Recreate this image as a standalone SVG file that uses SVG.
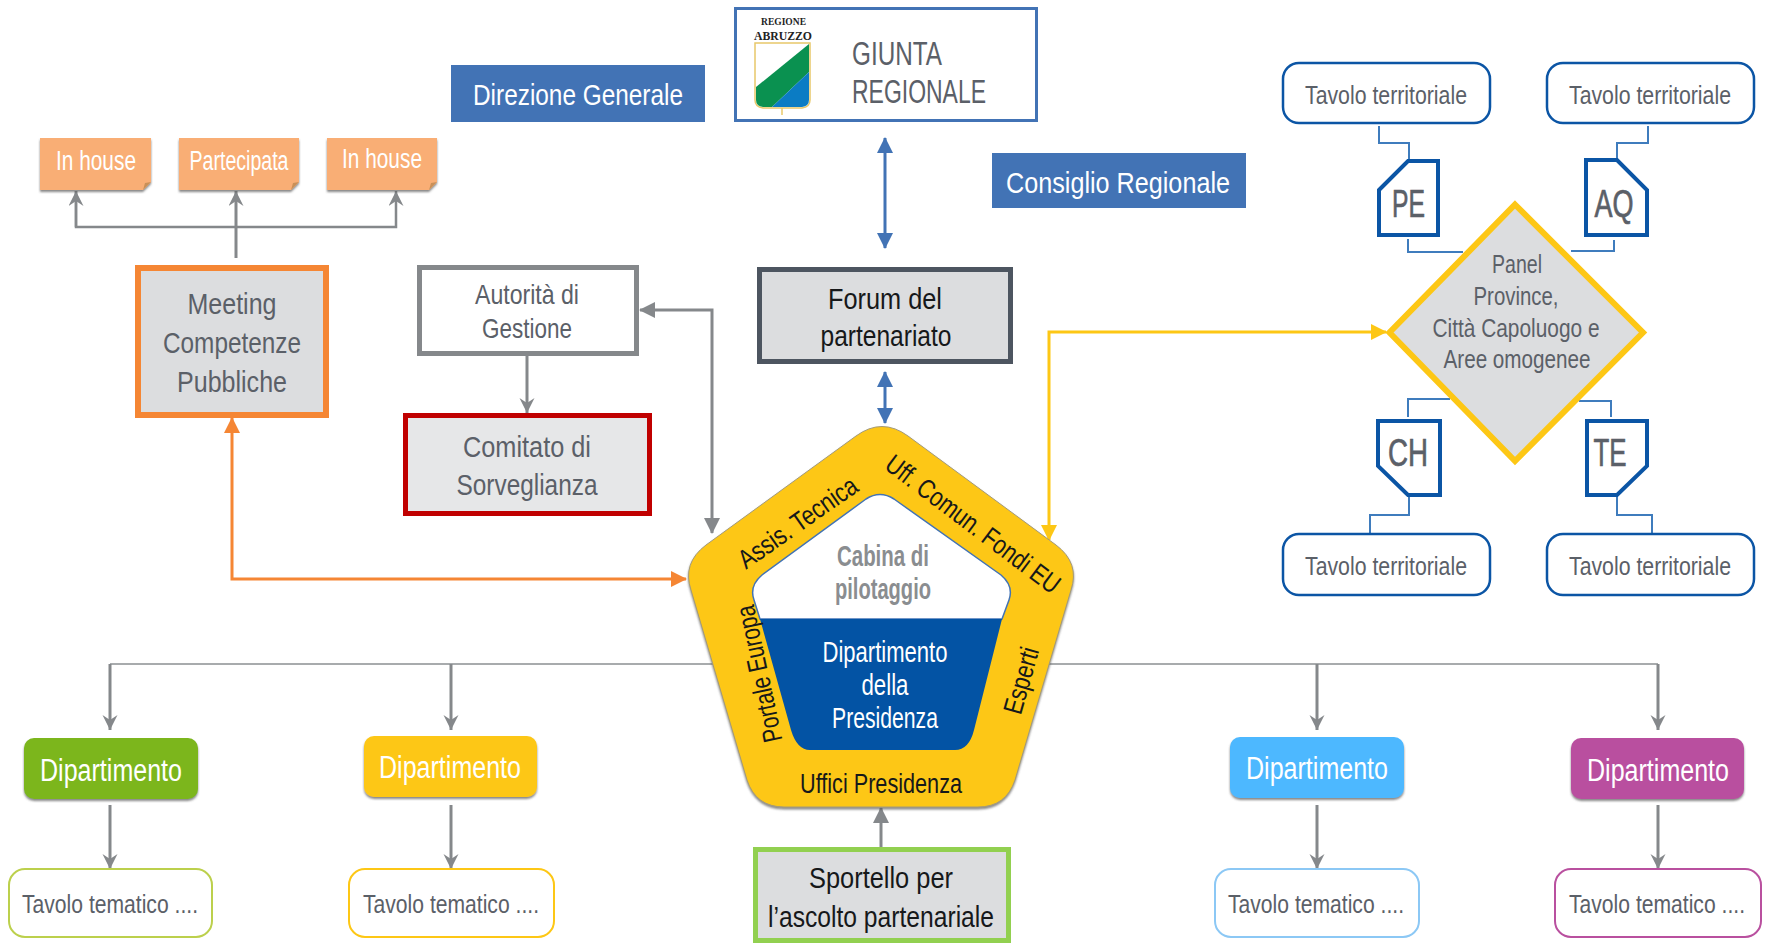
<svg xmlns="http://www.w3.org/2000/svg" width="1765" height="943" viewBox="0 0 1765 943">
<style>
text{font-family:"Liberation Sans",Arial,sans-serif;text-anchor:middle}
.g{fill:#5b6068}.w{fill:#fff}.k{fill:#16181a}
.h{stroke:#5b6068;stroke-width:.7}
.c{fill:none}
.gr{stroke:#85888b;stroke-width:3}
.bl{stroke:#4273b5;stroke-width:3}
.th{stroke:#3f7cbd;stroke-width:2;fill:none}
.doc{fill:#fff;stroke:#0b55a5;stroke-width:4}
.tt{fill:#fff;stroke:#0b55a5;stroke-width:2.5}
</style>
<defs>
<marker id="hg" markerUnits="userSpaceOnUse" markerWidth="16" markerHeight="18" refX="15" refY="8" orient="auto-start-reverse"><path d="M0 0L16 8L0 16z" fill="#85888b"/></marker>
<marker id="hs" markerUnits="userSpaceOnUse" markerWidth="16" markerHeight="16" refX="15" refY="7.5" orient="auto"><path d="M0 0L15 7.5L0 15L5 7.5z" fill="#85888b"/></marker>
<marker id="hb" markerUnits="userSpaceOnUse" markerWidth="16" markerHeight="16" refX="15" refY="8" orient="auto-start-reverse"><path d="M0 0L16 8L0 16z" fill="#4273b5"/></marker>
<marker id="ho" markerUnits="userSpaceOnUse" markerWidth="16" markerHeight="16" refX="15" refY="8" orient="auto-start-reverse"><path d="M0 0L16 8L0 16z" fill="#f58634"/></marker>
<marker id="hy" markerUnits="userSpaceOnUse" markerWidth="16" markerHeight="16" refX="15" refY="8" orient="auto-start-reverse"><path d="M0 0L16 8L0 16z" fill="#fdc715"/></marker>
<filter id="sh" x="-10%" y="-10%" width="120%" height="125%"><feDropShadow dx="0" dy="2" stdDeviation="1.2" flood-color="#555" flood-opacity=".7"/></filter>
</defs>

<g id="connectors">
<path class="c" d="M110 664H1658" stroke="#a8abad" stroke-width="2"/>
<g class="c gr">
<path d="M110 664V730" marker-end="url(#hs)"/><path d="M451 664V730" marker-end="url(#hs)"/><path d="M1317 664V730" marker-end="url(#hs)"/><path d="M1658 664V730" marker-end="url(#hs)"/>
<path d="M110 805V869" marker-end="url(#hs)"/><path d="M451 805V869" marker-end="url(#hs)"/><path d="M1317 805V869" marker-end="url(#hs)"/><path d="M1658 805V869" marker-end="url(#hs)"/>
<path d="M76 191V227H396V191" stroke-width="2.500" marker-end="url(#hs)"/><path d="M236 258V191" marker-end="url(#hs)"/>
<path d="M76 227V191" stroke-width="2.500" marker-end="url(#hs)"/>
<path d="M527 356V413" marker-end="url(#hs)"/>
</g>
<path class="c gr" d="M640 310H712V533" marker-start="url(#hg)" marker-end="url(#hg)"/>
<path class="c gr" d="M881 849V808" marker-end="url(#hg)"/>
<path class="c bl" d="M885 138V248" marker-start="url(#hb)" marker-end="url(#hb)"/>
<path class="c bl" d="M885 372V423" marker-start="url(#hb)" marker-end="url(#hb)"/>
<path class="c" d="M232 418V579H686" stroke="#f58634" stroke-width="3" marker-start="url(#ho)" marker-end="url(#ho)"/>
<path class="c" d="M1049 540V332H1386" stroke="#fdc715" stroke-width="3" marker-start="url(#hy)" marker-end="url(#hy)"/>
<path class="th" d="M1379 126V143H1409V160M1408 239V252H1463M1648 126V143H1617V159M1614 240V251H1571M1408 417V399H1450M1611 417V401H1579M1409 496V515H1370V534M1617 496V515H1652V534"/>
</g>

<g id="giunta">
<rect x="735.500" y="8.500" width="301" height="112" fill="#fff" stroke="#4273b5" stroke-width="3"/>
<text x="761" y="25" font-size="11" font-weight="bold" fill="#222" style="font-family:'Liberation Serif',serif;text-anchor:start" textLength="45" lengthAdjust="spacingAndGlyphs">REGIONE</text>
<text x="754" y="40" font-size="13" font-weight="bold" fill="#222" style="font-family:'Liberation Serif',serif;text-anchor:start" textLength="58" lengthAdjust="spacingAndGlyphs">ABRUZZO</text>
<path d="M782 108V115" stroke="#e8c86a" stroke-width="1.500"/>
<path d="M755 43H810V100Q810 107 802 108H763Q755 107 755 100Z" fill="#fff" stroke="#e8c86a" stroke-width="1.500"/>
<path d="M756 87L809 44V72L772 107H763Q756 106 756 100Z" fill="#0a9150"/>
<path d="M809 72V100Q809 106 802 107H772Z" fill="#0b7cc4"/>
<text class="g" font-size="33" x="852" y="65" style="text-anchor:start" textLength="90" lengthAdjust="spacingAndGlyphs">GIUNTA</text>
<text class="g" font-size="33" x="852" y="103" style="text-anchor:start" textLength="134" lengthAdjust="spacingAndGlyphs">REGIONALE</text>
</g>
<g id="direzione"><rect x="451" y="65" width="254" height="57" fill="#4273b5"/><text class="w" font-size="29" x="578" y="105" textLength="210" lengthAdjust="spacingAndGlyphs">Direzione Generale</text></g>
<g id="consiglio"><rect x="992" y="153" width="254" height="55" fill="#4273b5"/><text class="w" font-size="29" x="1118" y="193" textLength="224" lengthAdjust="spacingAndGlyphs">Consiglio Regionale</text></g>

<g id="inhouse1"><path d="M40 138H151V182L143 190H40Z" fill="#f9ae74" filter="url(#sh)"/><path d="M143 190L145 183L151 182Z" fill="#c99058"/><text class="w" font-size="27" x="96" y="170" textLength="80" lengthAdjust="spacingAndGlyphs">In house</text></g>
<g id="partecipata"><path d="M179 138H299V182L291 190H179Z" fill="#f9ae74" filter="url(#sh)"/><path d="M291 190L293 183L299 182Z" fill="#c99058"/><text class="w" font-size="27" x="239" y="170" textLength="99" lengthAdjust="spacingAndGlyphs">Partecipata</text></g>
<g id="inhouse2"><path d="M327 138H437V182L429 190H327Z" fill="#f9ae74" filter="url(#sh)"/><path d="M429 190L431 183L437 182Z" fill="#c99058"/><text class="w" font-size="27" x="382" y="168" textLength="80" lengthAdjust="spacingAndGlyphs">In house</text></g>

<g id="meeting"><rect x="138" y="268" width="188" height="147" fill="#dcdddf" stroke="#f58634" stroke-width="6"/>
<text class="g" font-size="30" x="232" y="314" textLength="89" lengthAdjust="spacingAndGlyphs">Meeting</text><text class="g" font-size="30" x="232" y="353" textLength="138" lengthAdjust="spacingAndGlyphs">Competenze</text><text class="g" font-size="30" x="232" y="392" textLength="110" lengthAdjust="spacingAndGlyphs">Pubbliche</text></g>
<g id="autorita"><rect x="419.500" y="267.500" width="217" height="86" fill="#fff" stroke="#85888b" stroke-width="5"/>
<text class="g" font-size="28" x="527" y="304" textLength="104" lengthAdjust="spacingAndGlyphs">Autorità di</text><text class="g" font-size="28" x="527" y="338" textLength="90" lengthAdjust="spacingAndGlyphs">Gestione</text></g>
<g id="comitato"><rect x="405.500" y="415.500" width="244" height="98" fill="#e6e7e8" stroke="#c00000" stroke-width="5"/>
<text class="g" font-size="30" x="527" y="457" textLength="128" lengthAdjust="spacingAndGlyphs">Comitato di</text><text class="g" font-size="30" x="527" y="495" textLength="141" lengthAdjust="spacingAndGlyphs">Sorveglianza</text></g>
<g id="forum"><rect x="759.500" y="269.500" width="251" height="92" fill="#dcdddf" stroke="#4d5560" stroke-width="5"/>
<text class="k" font-size="29" x="885" y="309" textLength="114" lengthAdjust="spacingAndGlyphs">Forum del</text><text class="k" font-size="29" x="886" y="346" textLength="131" lengthAdjust="spacingAndGlyphs">partenariato</text></g>

<g id="pannello">
<path d="M1515 204.500L1643 332.500L1515 461L1389.500 332.500Z" fill="#dcdddf" stroke="#fdc715" stroke-width="6"/>
<text class="g" font-size="26" x="1517" y="273" textLength="50" lengthAdjust="spacingAndGlyphs">Panel</text><text class="g" font-size="26" x="1516" y="305" textLength="85" lengthAdjust="spacingAndGlyphs">Province,</text><text class="g" font-size="26" x="1516" y="337" textLength="167" lengthAdjust="spacingAndGlyphs">Città Capoluogo e</text><text class="g" font-size="26" x="1517" y="368" textLength="147" lengthAdjust="spacingAndGlyphs">Aree omogenee</text>
</g>
<g id="pe"><path class="doc" d="M1379 190L1408 161H1438V235H1379Z"/><text class="g h" x="1408.500" y="217" font-size="39" textLength="33" lengthAdjust="spacingAndGlyphs">PE</text></g>
<g id="aq"><path class="doc" d="M1586 160H1617L1647 190V235H1586Z"/><text class="g h" x="1614" y="217" font-size="39" textLength="39" lengthAdjust="spacingAndGlyphs">AQ</text></g>
<g id="ch"><path class="doc" d="M1378 421H1440V495H1408L1378 466Z"/><text class="g h" x="1408" y="466" font-size="39" textLength="40" lengthAdjust="spacingAndGlyphs">CH</text></g>
<g id="te"><path class="doc" d="M1587 421H1647V466L1617 495H1587Z"/><text class="g h" x="1610" y="466" font-size="39" textLength="33" lengthAdjust="spacingAndGlyphs">TE</text></g>
<g id="tt1"><rect class="tt" x="1283" y="63" width="207" height="60" rx="16"/><text class="g" font-size="26" x="1386" y="104" textLength="162" lengthAdjust="spacingAndGlyphs">Tavolo territoriale</text></g>
<g id="tt2"><rect class="tt" x="1547" y="63" width="207" height="60" rx="16"/><text class="g" font-size="26" x="1650" y="104" textLength="162" lengthAdjust="spacingAndGlyphs">Tavolo territoriale</text></g>
<g id="tt3"><rect class="tt" x="1283" y="534" width="207" height="61" rx="16"/><text class="g" font-size="26" x="1386" y="575" textLength="162" lengthAdjust="spacingAndGlyphs">Tavolo territoriale</text></g>
<g id="tt4"><rect class="tt" x="1547" y="534" width="207" height="61" rx="16"/><text class="g" font-size="26" x="1650" y="575" textLength="162" lengthAdjust="spacingAndGlyphs">Tavolo territoriale</text></g>

<g id="pentagono">
<path d="M856 436Q882 417 908 436L1056 545Q1080 563 1071 590L1015 780Q1006 807 978 807H784Q756 807 747 780L691 590Q682 563 706 545Z" fill="#fdc715" stroke="#a39a7a" stroke-width="1" filter="url(#sh)"/>
<path d="M866 499Q880 490 894 499L1001 575Q1014 586 1009 600L1002 619H760L754 600Q749 586 762 575Z" fill="#fff" stroke="#4273b5" stroke-width="1.500"/>
<path d="M760 619H1002L974 730Q969 750 955 750H810Q797 750 791 730Z" fill="#0353a4"/>
<text class="k" font-size="27" transform="translate(803 530) rotate(-35)" textLength="139" lengthAdjust="spacingAndGlyphs">Assis. Tecnica</text>
<text class="k" font-size="27" transform="translate(967.500 531.500) rotate(37)" textLength="211" lengthAdjust="spacingAndGlyphs">Uff. Comun. Fondi EU</text>
<text class="k" font-size="27" transform="translate(768 672) rotate(-102)" textLength="139" lengthAdjust="spacingAndGlyphs">Portale Europa</text>
<text class="k" font-size="27" transform="translate(1030 683) rotate(-74)" textLength="68" lengthAdjust="spacingAndGlyphs">Esperti</text>
<text class="k" font-size="27" x="881" y="793" textLength="162" lengthAdjust="spacingAndGlyphs">Uffici Presidenza</text>
<text font-size="29" fill="#8a8d90" x="883" y="566" font-weight="bold" textLength="92" lengthAdjust="spacingAndGlyphs">Cabina di</text>
<text font-size="29" fill="#8a8d90" x="883" y="599" font-weight="bold" textLength="96" lengthAdjust="spacingAndGlyphs">pilotaggio</text>
<text class="w" font-size="29" x="885" y="662" textLength="125" lengthAdjust="spacingAndGlyphs">Dipartimento</text>
<text class="w" font-size="29" x="885" y="695" textLength="47" lengthAdjust="spacingAndGlyphs">della</text>
<text class="w" font-size="29" x="885" y="728" textLength="106" lengthAdjust="spacingAndGlyphs">Presidenza</text>
</g>

<g id="dip1"><rect x="24" y="738" width="174" height="61" rx="10" fill="#7bb61f" filter="url(#sh)"/><text class="w" font-size="31" x="111" y="781" textLength="142" lengthAdjust="spacingAndGlyphs">Dipartimento</text></g>
<g id="dip2"><rect x="364" y="736" width="173" height="61" rx="10" fill="#fdc715" filter="url(#sh)"/><text class="w" font-size="31" x="450" y="778" textLength="142" lengthAdjust="spacingAndGlyphs">Dipartimento</text></g>
<g id="dip3"><rect x="1230" y="737" width="174" height="61" rx="10" fill="#4db8ff" filter="url(#sh)"/><text class="w" font-size="31" x="1317" y="779" textLength="142" lengthAdjust="spacingAndGlyphs">Dipartimento</text></g>
<g id="dip4"><rect x="1571" y="738" width="173" height="61" rx="10" fill="#b9509f" filter="url(#sh)"/><text class="w" font-size="31" x="1658" y="781" textLength="142" lengthAdjust="spacingAndGlyphs">Dipartimento</text></g>
<g id="tem1"><rect x="9" y="869" width="203" height="68" rx="16" fill="#fff" stroke="#bcd04c" stroke-width="2"/><text class="g" font-size="26" x="110" y="913" textLength="176" lengthAdjust="spacingAndGlyphs">Tavolo tematico ....</text></g>
<g id="tem2"><rect x="349" y="869" width="205" height="68" rx="16" fill="#fff" stroke="#fdc715" stroke-width="2"/><text class="g" font-size="26" x="451" y="913" textLength="176" lengthAdjust="spacingAndGlyphs">Tavolo tematico ....</text></g>
<g id="tem3"><rect x="1215" y="869" width="204" height="68" rx="16" fill="#fff" stroke="#8cc8f5" stroke-width="2"/><text class="g" font-size="26" x="1316" y="913" textLength="176" lengthAdjust="spacingAndGlyphs">Tavolo tematico ....</text></g>
<g id="tem4"><rect x="1555" y="869" width="206" height="68" rx="16" fill="#fff" stroke="#b9509f" stroke-width="2"/><text class="g" font-size="26" x="1657" y="913" textLength="176" lengthAdjust="spacingAndGlyphs">Tavolo tematico ....</text></g>
<g id="sportello"><rect x="755.500" y="849.500" width="253" height="91" fill="#dcdddf" stroke="#92d050" stroke-width="5"/>
<text class="k" font-size="30" x="881" y="888" textLength="144" lengthAdjust="spacingAndGlyphs">Sportello per</text><text class="k" font-size="30" x="881" y="927" textLength="226" lengthAdjust="spacingAndGlyphs">l’ascolto partenariale</text></g>
</svg>
